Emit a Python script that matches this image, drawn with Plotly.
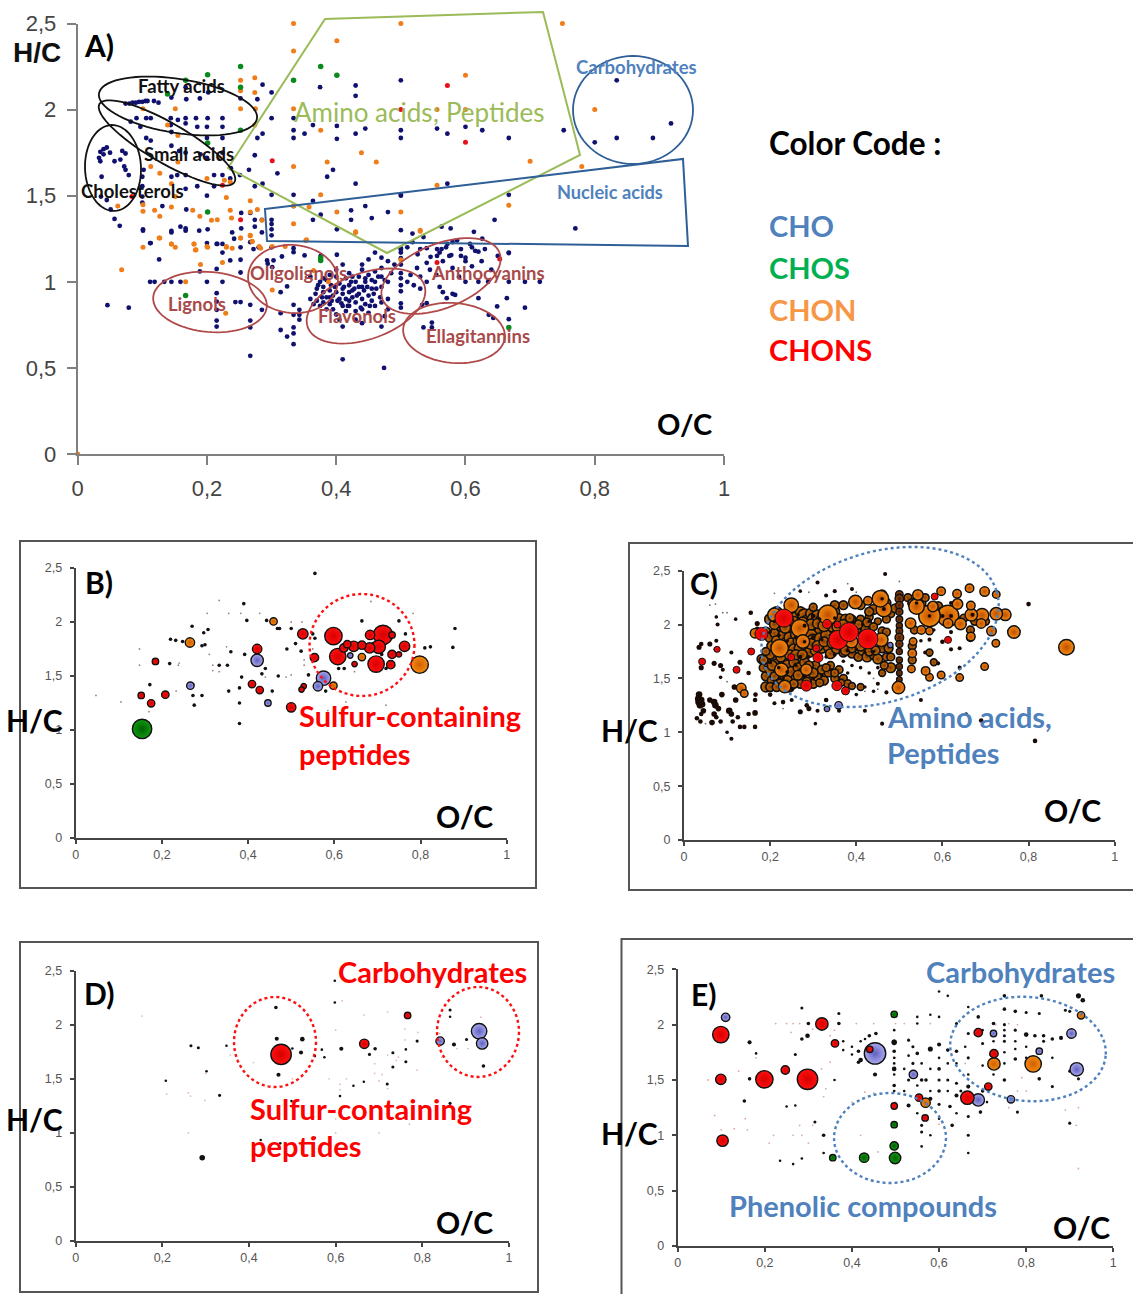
import math
import plotly.graph_objects as go

W, H = 1133, 1294
TICK_VALS_X = [0, 0.2, 0.4, 0.6, 0.8, 1]
TICK_TEXT_X = ["0", "0,2", "0,4", "0,6", "0,8", "1"]
TICK_VALS_Y = [0, 0.5, 1, 1.5, 2, 2.5]
TICK_TEXT_Y = ["0", "0,5", "1", "1,5", "2", "2,5"]

A_CHO = [(.04,1.77),(.045,1.78),(.035,1.755),(.04,1.74),(.033,1.72),(.035,1.7),(.05,1.75),(.069,1.76),(.074,1.745),(.066,1.71),(.057,1.70),(.072,1.67),(.074,1.65),(.079,1.62),(.037,1.61),(.036,1.495),(.045,1.475),(.051,1.42),(.057,1.365),(.065,1.325),(.102,1.65),(.10,1.61),(.10,1.555),(.10,1.495),(.10,1.46),
(.074,2.035),(.08,2.035),(.085,2.04),(.09,2.04),(.095,2.045),(.10,2.045),(.105,2.05),(.108,2.05),(.118,2.05),(.125,2.04),(.145,2.07),(.168,2.06),(.189,2.065),(.202,2.10),(.167,2.13),(.252,2.065),(.278,2.06),(.286,2.145),(.30,2.10),(.375,2.13),(.43,2.14),(.43,2.08),(.5,2.17),(.834,2.17),(.918,1.92),(.80,1.81),(.834,1.835),(.89,1.835),(.752,1.88),(.667,1.835),(.626,1.88),(.60,1.90),(.572,1.86),(.556,1.89),(.5,1.88),(.5,1.835),
(.091,1.95),(.106,1.95),(.113,1.95),(.144,1.95),(.155,1.94),(.167,1.95),(.183,1.95),(.201,1.95),(.224,1.95),(.30,1.95),(.334,1.95),(.2,1.9),(.224,1.9),(.185,1.9),(.144,1.91),(.167,1.92),(.082,1.93),(.097,1.9),(.106,1.835),(.113,1.82),(.145,1.87),(.2,1.835),(.224,1.835),(.278,1.835),(.286,1.86),(.334,1.835),(.334,1.88),(.351,1.86),(.364,1.91),(.401,1.83),(.401,1.905),(.43,1.86),(.445,1.89),
(.145,1.79),(.157,1.76),(.167,1.75),(.19,1.74),(.2,1.72),(.224,1.75),(.274,1.735),(.237,1.66),(.251,1.62),(.265,1.65),(.309,1.63),(.395,1.65),(.386,1.61),(.236,1.6),(.224,1.62),(.211,1.62),(.167,1.62),(.154,1.62),(.145,1.61),(.286,1.57),(.274,1.555),(.30,1.505),(.334,1.505),(.43,1.57),(.211,1.555),(.2,1.5),(.185,1.555),(.167,1.54),
(.364,1.47),(.445,1.44),(.423,1.415),(.334,1.44),(.376,1.39),(.364,1.36),(.423,1.36),(.401,1.305),(.455,1.37),(.5,1.5),(.3,1.36),(.3,1.335),(.3,1.305),(.3,1.27),(.285,1.36),(.274,1.36),(.274,1.32),(.253,1.31),(.253,1.4),(.267,1.4),(.201,1.305),(.168,1.42),(.131,1.44),(.101,1.305),(.145,1.295),(.159,1.32),(.167,1.31),(.113,1.225),(.216,1.22),(.224,1.22),(.2,1.225),(.242,1.25),(.252,1.2),(.267,1.23),(.28,1.2),(.3,1.2),(.334,1.195),(.376,1.15),
(.572,1.57),(.5,1.505),(.667,1.505),(.48,1.405),(.645,1.36),(.77,1.31),(.518,1.28),(.535,1.26),(.518,1.23),(.5,1.3),(.563,1.32),(.577,1.31),(.613,1.29),(.626,1.25),(.587,1.24),(.572,1.22),(.58,1.23),(.607,1.22),(.54,1.195),(.556,1.19),(.563,1.19),(.593,1.19),(.62,1.175),(.63,1.19),(.667,1.17),(.5,1.195),(.5,1.17),(.526,1.16),(.546,1.145),(.556,1.15),(.578,1.155),(.593,1.15),(.6,1.14),
(.112,1.0),(.119,1.0),(.134,1.0),(.145,1.0),(.159,1.0),(.2,1.0),(.224,1.0),(.101,1.297),(.145,1.287),(.167,1.297),(.188,1.297),(.239,1.287),(.285,1.287),(.215,1.22),(.224,1.17),(.272,1.19),(.112,1.225),(.126,1.13),(.236,1.124),(.252,1.128),(.293,1.124),(.303,1.124),(.294,1.105),(.301,1.085),(.316,1.147),(.334,1.172),(.351,1.153),(.401,1.157),(.252,1.054),(.189,1.06),(.215,1.075),
(.324,.973),(.314,.94),(.334,.866),(.343,.837),(.343,.808),(.334,.808),(.343,.78),(.334,.735),(.334,.70),(.324,.682),(.314,.72),(.334,.638),(.267,.735),(.267,.775),(.267,.866),(.252,.882),(.244,.882),(.285,.837),(.314,.818),(.215,.934),(.215,.885),(.215,.837),(.215,.775),(.215,.74),(.046,.864),(.079,.85),(.267,.57),(.41,.55),(.474,.50),
(.375,1.0),(.385,1.01),(.392,.98),(.40,1.03),(.405,.99),(.41,.96),(.415,1.02),(.42,.98),(.425,.95),(.43,1.0),(.435,1.03),(.44,.97),(.445,1.0),(.45,1.04),(.455,.96),(.46,1.0),(.465,1.03),(.47,.97),(.475,1.01),(.48,1.0),(.485,1.05),(.37,.96),(.38,.94),(.385,.91),(.39,.95),(.395,.92),(.40,.94),(.405,.90),(.41,.93),(.415,.90),(.42,.94),(.425,.91),(.43,.88),(.435,.93),(.44,.90),(.445,.87),(.45,.92),(.455,.89),(.36,.90),(.365,.87),(.37,.89),(.375,.86),(.38,.88),(.39,.87),(.395,.84),(.40,.81),(.41,.86),(.415,.83),(.42,.86),(.43,.83),(.44,.84),(.45,.82),(.46,.86),(.47,.88),(.48,.90),(.385,.84),(.405,.78),(.41,.74),(.43,.78),(.44,.76),(.47,.74),(.475,.80),(.48,.84),(.42,1.05),(.44,1.07),(.46,1.06),(.47,1.08),(.40,1.07),(.41,1.10),(.44,1.10),(.45,1.13),(.46,1.17),(.47,1.14),(.49,1.10),(.48,1.12),(.39,1.04),(.36,1.03),(.38,.97),
(.39,.91),(.398,.97),(.408,.875),(.418,.86),(.423,1.0),(.428,.96),(.432,.92),(.438,.85),(.443,.95),(.448,.97),(.452,.86),(.458,.93),(.462,.96),(.468,.91),(.42,.89),(.412,.97),(.402,.89),(.393,.89),(.378,.91),(.368,.93),(.372,.98),(.38,1.02),(.435,.97),(.425,1.03),(.445,1.02),(.455,1.01),(.47,1.03),
(.5,1.186),(.5,1.137),(.5,1.10),(.5,1.05),(.5,1.02),(.5,.98),(.5,.945),(.5,.875),(.5,.85),(.51,1.0),(.52,.98),(.515,1.04),(.525,1.08),(.53,.96),(.53,1.03),(.54,1.11),(.54,1.0),(.545,1.07),(.555,1.04),(.56,1.17),(.565,1.12),(.56,.97),(.565,.94),(.575,1.15),(.58,1.08),(.59,1.03),(.60,1.12),(.6,1.0),(.61,1.09),(.615,1.18),(.62,1.0),(.625,1.12),(.635,1.0),(.64,1.07),(.65,1.15),(.667,1.167),(.667,1.0),(.692,1.0),(.715,1.0),(.664,.905),(.649,.857),(.692,.85),(.636,.808),(.643,.79),(.667,.783),(.535,.735),(.548,.763),(.548,.735),(.62,.905),(.584,.924),(.571,.905),(.54,.876),(.533,.866),(.58,.93),(.51,1.2),(.53,1.19),(.57,1.2),(.61,1.2)]

A_CHON = [(.334,2.5),(.401,2.4),(.334,2.34),(.5,2.5),(.75,2.5),(.6,2.2),(.556,2.0),(.6,2.0),(.8,2.0),(.70,1.70),(.78,1.67),(.556,1.56),(.5,1.405),(.667,1.445),(.53,1.30),(.252,2.17),(.274,2.185),(.252,2.11),(.274,2.1),(.101,2.005),(.151,2.005),(.252,2.005),(.275,2.005),(.334,2.005),(.139,1.91),(.274,1.91),(.376,1.88),(.155,1.85),(.439,1.75),(.334,1.67),(.386,1.695),(.462,1.695),(.219,1.72),(.155,1.695),(.113,1.67),(.127,1.63),(.2,1.6),(.227,1.59),(.236,1.58),(.145,1.57),(.151,1.495),(.376,1.505),(.267,1.47),(.23,1.49),(.062,1.44),(.101,1.447),(.101,1.41),(.145,1.434),(.119,1.415),(.127,1.38),(.178,1.415),(.189,1.38),(.207,1.357),(.216,1.36),(.236,1.415),(.238,1.37),(.267,1.405),(.278,1.42),(.285,1.357),(.334,1.44),(.358,1.434),(.334,1.337),(.401,1.405),(.43,1.29),(.354,1.244),(.252,1.254),(.267,1.27),(.27,1.235),(.127,1.254),(.145,1.22),(.151,1.2),(.101,1.2),(.18,1.22),(.201,1.2),(.182,1.185),(.23,1.2),(.239,1.195),(.283,1.195),(.321,1.205),(.126,1.254),(.145,1.22),(.18,1.22),(.183,1.186),(.2,1.205),(.23,1.205),(.252,1.254),(.267,1.267),(.27,1.234),(.281,1.205),(.301,1.205),(.353,1.24),(.068,1.07),(.19,1.1),(.224,1.112),(.167,1),(.229,.818),(.301,.953),(.365,1.066),(.388,1.0),(.5,1.128),(.43,1.287),(.53,1.293),(0,0)]

A_CHOS = [(.201,2.203),(.252,2.25),(.334,2.17),(.376,2.25),(.401,2.2),(.252,2.13),(.139,2.09),(.167,2.17),(.252,1.88),(.201,1.806),(.201,1.405),(.167,.92),(.376,1.124),(.667,.735),(.376,1.14)]

A_CHONS = [(.301,1.703),(.224,1.56),(.252,1.36),(.084,1.495),(.572,2.14),(.5,2.0),(.6,1.81),(.556,1.112),(.653,1.132)]

B_RED = [(.713,1.88,18),(.598,1.87,16),(.608,1.68,15),(.697,1.61,15),(.703,1.77,12),(.683,1.88,8),(.682,1.76,9),(.645,1.775,9),(.664,1.785,7),(.622,1.76,7),(.63,1.795,6),(.763,1.775,9),(.734,1.70,7),(.731,1.605,7),(.734,1.88,5),(.527,1.89,9),(.554,1.67,7),(.421,1.75,8),(.409,1.425,6),(.427,1.37,6),(.5,1.21,8),(.208,1.327,6),(.175,1.247,6),(.152,1.32,5),(.185,1.635,5),(.647,1.61,4),(.529,1.405,4),(.524,1.375,4),(.75,1.7,4)]
B_CHON = [(.798,1.605,16),(.265,1.81,8),(.459,2.005,6),(.664,1.675,6),(.598,1.41,6)]
B_CHO = [(.421,1.645,11),(.575,1.48,13),(.562,1.405,8),(.266,1.41,6),(.637,1.69,4),(.446,1.25,5)]
B_CHOS = [(.154,1.01,18)]
B_BLACK = [(.555,2.45),(.39,2.17),(.397,2.015),(.443,2.015),(.468,1.94),(.5,1.94),(.555,1.85),(.55,1.89),(.51,1.8),(.523,1.73),(.36,1.725),(.392,1.7),(.333,1.6),(.352,1.6),(.44,1.57),(.432,1.52),(.385,1.49),(.38,1.39),(.38,1.25),(.38,1.06),(.272,1.42),(.293,1.32),(.27,1.96),(.297,1.9),(.307,1.93),(.22,1.84),(.232,1.83),(.248,1.82),(.293,1.78),(.3,1.79),(.218,1.615),(.172,1.42),(.272,1.32),(.275,1.23),(.456,1.36),(.473,1.94),(.58,1.36),(.61,1.57),(.623,1.57),(.664,2.01),(.75,2.01),(.765,1.89),(.81,1.76),(.823,1.77),(.875,1.765),(.88,1.94),(.72,1.57),(.7,1.89),(.655,1.8),(.69,1.8),(.71,1.7),(.54,1.51),(.355,1.36),(.49,1.75),(.47,1.5)]
B_TINY = [(.047,1.32),(.105,1.26),(.148,1.75),(.148,1.6),(.17,1.17),(.24,1.62),(.238,1.6),(.233,1.36),(.305,2.08),(.333,2.2),(.355,2.08),(.383,2.08),(.427,2.08),(.5,2.0),(.525,2.0),(.35,1.77),(.31,1.7),(.318,1.6),(.318,1.55),(.333,1.54),(.488,1.49),(.5,1.51),(.44,1.49),(.685,2.19),(.783,2.08),(.72,1.23),(.627,1.26),(.78,1.11),(.585,1.18),(.55,1.75),(.53,1.65),(.56,1.7),(.647,1.54),(.53,1.6)]

C_BODY = [(.2,2.05,9),(.215,2.11,10),(.22,2.03,8),(.225,1.98,7),(.24,2.08,9),(.245,2.02,10),(.25,1.95,8),(.255,2.1,9),(.26,2.06,10),(.265,2.0,9),(.27,2.12,8),(.275,1.95,10),(.28,2.08,12),(.285,2.03,10),(.29,1.97,11),(.295,2.1,9),(.3,2.05,10),(.305,1.98,8),(.31,2.08,10),(.315,1.93,9),(.32,2.03,11),(.325,2.1,10),(.33,1.96,9),(.34,2.05,9),(.345,1.99,11),(.35,2.12,8),(.355,1.9,10),(.36,2.05,9),(.365,1.97,7),(.37,2.18,7),(.375,2.05,8),(.38,1.99,9),(.39,2.05,6),(.4,1.95,7),(.41,2.05,6),(.42,1.97,6),(.43,2.07,6),(.44,2.14,8),(.45,2.03,5),(.46,1.94,6),(.47,1.93,6),
(.19,1.93,8),(.2,1.88,8),(.205,1.8,9),(.21,1.92,7),(.215,1.85,8),(.23,1.9,8),(.235,1.82,10),(.24,1.76,8),(.245,1.88,9),(.25,1.83,8),(.255,1.77,9),(.26,1.91,9),(.265,1.85,8),(.27,1.78,10),(.28,1.88,9),(.285,1.8,9),(.29,1.74,8),(.295,1.9,10),(.3,1.85,11),(.305,1.76,8),(.315,1.87,9),(.32,1.78,8),(.33,1.9,9),(.335,1.8,9),(.34,1.73,8),(.35,1.88,8),(.355,1.78,9),(.365,1.83,8),(.37,1.74,7),(.38,1.8,8),(.39,1.73,7),(.4,1.82,8),(.405,1.7,7),(.415,1.76,8),(.425,1.7,8),(.435,1.79,7),(.44,1.72,7),(.45,1.68,8),(.46,1.78,7),(.47,1.7,6),(.475,1.78,7),(.48,1.6,8),(.465,1.62,6),
(.18,1.68,7),(.185,1.6,7),(.19,1.52,7),(.19,1.42,8),(.195,1.65,8),(.2,1.58,8),(.205,1.48,8),(.21,1.7,8),(.215,1.63,9),(.22,1.55,9),(.225,1.45,8),(.23,1.67,8),(.235,1.52,9),(.24,1.62,9),(.245,1.42,8),(.25,1.56,9),(.255,1.65,8),(.26,1.5,8),(.265,1.6,8),(.27,1.45,7),(.275,1.55,8),(.28,1.65,8),(.29,1.5,8),(.295,1.58,8),(.3,1.45,7),(.305,1.62,7),(.31,1.52,8),(.32,1.58,7),(.325,1.48,7),(.335,1.55,6),(.34,1.62,6),(.35,1.5,6),(.36,1.58,6),(.37,1.5,6),(.38,1.45,6),(.39,1.43,5),(.41,1.42,5),
(.46,2.28,7),(.47,2.2,7),(.48,2.1,6),(.49,2.15,7),(.47,2.05,6),(.52,2.25,6),(.53,2.2,7),(.55,2.2,8),(.555,2.12,8),(.56,2.25,6),(.59,2.17,7),(.6,2.12,7),(.62,2.1,6),(.63,2.05,7),(.65,2.06,6),(.675,2.03,6),(.7,2.03,6),(.535,1.95,6),(.53,1.8,6),(.53,1.67,6),(.665,1.95,6),(.665,1.88,6),(.58,1.65,5),(.57,1.74,5),(.43,2.12,7),(.41,2.18,7),(.35,2.18,7),(.3,2.16,6),(.48,1.7,6),(.46,1.55,5),
(.21,2.0,8),(.235,1.97,9),(.255,2.03,8),(.275,2.02,9),(.295,2.0,9),(.31,2.01,8),(.325,1.99,10),(.335,2.04,9),(.355,1.98,8),(.37,2.0,8),(.385,2.06,7),(.405,2.0,7),(.425,2.02,7),(.44,1.98,6),(.215,1.75,8),(.225,1.7,8),(.245,1.72,8),(.26,1.72,8),(.275,1.72,8),(.295,1.82,9),(.31,1.8,9),(.325,1.84,8),(.345,1.83,9),(.36,1.84,8),(.375,1.76,8),(.39,1.78,7),(.41,1.8,8),(.43,1.75,7),(.445,1.76,7),(.2,1.72,7),(.205,1.62,8),(.21,1.52,7),(.225,1.6,8),(.24,1.48,8),(.255,1.45,7),(.265,1.53,8),(.285,1.47,7),(.3,1.55,8),(.315,1.46,6),(.33,1.6,6),(.35,1.55,6),(.365,1.46,5),(.29,1.62,7),(.2,1.42,7),(.215,1.42,7),(.185,1.67,7),(.19,1.75,6)]
C_COLUMN = [(.5,2.28,6),(.5,2.24,7),(.5,2.18,6),(.5,2.12,5.5),(.5,2.05,5),(.5,1.99,4.5),(.5,1.94,5),(.5,1.88,7),(.5,1.82,5.5),(.5,1.75,4.5),(.5,1.67,4.5),(.5,1.61,4.5),(.5,1.55,4),(.5,1.49,4)]
C_BIG = [(.888,1.79,14),(.766,1.93,11),(.746,2.09,10),(.725,2.10,11),(.692,2.087,12),(.667,2.09,11),(.613,2.08,20),(.57,2.08,20),(.54,2.167,14),(.464,2.145,14),(.456,2.24,15),(.398,2.21,12),(.249,2.18,13),(.334,2.09,18),(.269,1.966,16),(.222,1.78,16),(.276,1.842,12),(.389,1.842,11),(.458,1.858,12),(.498,1.415,11),(.284,1.58,10),(.226,1.58,12),(.234,1.424,11),(.133,1.41,8),(.698,2.306,8),(.663,2.337,7),(.597,2.31,7),(.543,2.275,9),(.427,2.22,7),(.634,2.285,7),(.725,2.28,6),(.635,2.19,9),(.666,2.176,7),(.642,2.006,10),(.714,1.94,8),(.724,1.827,6),(.666,1.888,7),(.698,1.61,6),(.64,1.508,6),(.597,1.532,6),(.57,1.51,6),(.561,1.57,7),(.528,1.588,6),(.53,1.733,7),(.532,1.842,6),(.526,2.012,9),(.551,1.95,7),(.57,1.94,6),(.578,2.167,9),(.613,2.012,8),(.69,2.01,8),(.165,1.92,8),(.14,1.36,6),(.21,2.09,12)]
C_RED = [(.232,2.06,17),(.18,1.913,12),(.358,1.858,18),(.383,1.93,18),(.427,1.867,19),(.311,1.694,9),(.284,1.433,10),(.355,1.433,9),(.375,1.384,7),(.332,2.006,8),(.307,1.78,6),(.249,1.697,6),(.356,2.0,6),(.613,1.858,6),(.582,2.26,6),(.042,1.656,6),(.077,1.77,5),(.156,1.75,6),(.122,1.58,6)]
C_CHO = [(.359,1.25,6),(.332,1.217,4),(.479,1.81,4)]
C_DARK = [(.035,1.35,6),(.033,1.31,6),(.035,1.28,7),(.037,1.25,6),(.04,1.3,6),(.042,1.26,6),(.045,1.2,5),(.04,1.17,4),(.03,1.13,4),(.038,1.1,4),(.06,1.3,5),(.07,1.28,6),(.073,1.25,6),(.08,1.22,5),(.07,1.17,5),(.075,1.14,4),(.065,1.09,5),(.085,1.1,4),(.088,1.35,5),(.105,1.2,6),(.11,1.17,5),(.113,1.1,4),(.12,1.3,5),(.125,1.14,4),(.13,1.05,4),(.14,1.05,4),(.15,1.17,4),(.165,1.18,5),(.165,1.05,4),(.165,1.3,4),(.166,1.35,4),(.11,.94,3.5),(.1,1.0,3),(.04,1.82,4),(.035,1.79,4.5),(.06,1.82,4.5),(.075,1.85,3.5),(.075,1.77,5),(.07,1.64,4.5),(.085,1.62,4.5),(.04,1.6,4.5),(.09,1.58,3.5),(.085,1.51,3),(.11,1.74,3.5),(.13,1.65,4.5),(.12,1.58,5),(.15,1.55,4),(.117,1.42,5),(.155,2.11,4),(.078,2.0,3.5),(.075,2.07,3),(.12,2.05,3),(.17,2.01,4.5),(.17,1.96,4),(.25,1.3,3.5),(.2,1.35,4),(.23,1.28,4),(.21,1.27,3.5),(.27,1.19,4.5),(.29,1.22,4.5),(.285,1.25,4),(.31,1.2,3.5),(.33,1.3,4),(.36,1.2,3.5),(.42,1.2,3.5),(.45,1.45,3.5),(.46,1.08,3.5),(.47,1.37,3.5),(.55,1.3,3.5),(.69,1.11,4),(.815,.92,4),(.8,2.19,4),(.655,1.17,3),(.305,1.08,3),(.31,2.39,3.5),(.467,2.47,3.5),(.33,2.27,3.5),(.27,2.31,3),(.35,2.31,3.5),(.39,2.33,3.5),(.62,2.2,3.5),(.57,1.86,3.5),(.57,1.72,4),(.59,1.64,3.5),(.62,1.77,3.5),(.64,1.6,3.5),(.64,1.78,3.5),(.6,1.84,4),(.56,1.74,3.5)]
C_OVER = [(.21,2.03,3),(.235,2.12,3),(.25,2.05,4),(.265,2.09,3),(.28,1.99,3.5),(.3,2.08,4),(.315,2.05,3),(.332,2.02,4),(.35,2.06,3),(.37,1.95,3.5),(.395,2.02,3),(.415,2.0,3),(.43,2.03,3),(.2,1.93,3),(.22,1.9,3.5),(.24,1.85,3),(.26,1.88,3.5),(.28,1.84,3),(.3,1.88,4),(.32,1.86,3),(.34,1.9,3),(.36,1.8,3),(.38,1.76,3.5),(.4,1.77,3),(.42,1.74,3),(.44,1.75,3),(.2,1.65,3.5),(.22,1.6,3),(.24,1.56,3.5),(.26,1.62,3),(.28,1.52,3.5),(.3,1.5,3),(.32,1.53,3),(.34,1.58,3),(.21,1.46,3),(.23,1.5,3),(.25,1.4,3),(.27,1.7,3.5),(.29,1.7,3),(.31,1.73,3),(.33,1.7,3),(.35,1.72,3.5),(.37,1.66,3),(.39,1.62,3),(.41,1.6,3),(.43,1.55,3),(.45,1.6,3),(.38,1.55,3),(.36,1.42,3),(.4,1.35,3),(.44,1.38,3),(.42,1.42,3),(.6,2.08,3.5),(.57,2.08,3),(.46,2.24,3),(.464,2.145,3.5),(.62,2.08,3.5),(.54,2.2,3),(.67,2.09,3.5),(.55,1.85,3),(.58,1.95,3),(.62,1.93,3.5)]
C_TINY = [(.06,2.18,2),(.073,2.19,2),(.075,2.08,2),(.09,2.11,2),(.1,2.11,2),(.21,2.29,2),(.29,2.3,2),(.38,2.38,2),(.5,2.4,2),(.4,2.3,2),(.05,1.08,2),(.1,1.47,2),(.23,1.22,2),(.42,1.38,2),(.44,1.5,2),(.45,1.4,2)]

D_RED = [(.474,1.726,19),(.666,1.824,8),(.766,2.086,5)]
D_CHO = [(.931,1.94,14),(.938,1.827,10),(.841,1.849,7)]
D_BLACK = [(.462,2.16,3),(.464,1.87,3.5),(.523,1.867,4),(.52,1.744,3.5),(.468,1.538,3.5),(.266,1.806,2.5),(.283,1.787,2.5),(.348,1.806,2),(.332,1.347,2.5),(.292,.77,5),(.613,1.778,3.5),(.691,1.778,3),(.678,1.726,2.5),(.732,1.741,2.5),(.732,1.609,2.5),(.762,1.772,2),(.762,1.658,2.5),(.788,1.849,2.5),(.864,2.136,2.5),(.864,2.074,2),(.873,1.818,3.5),(.902,1.864,2.5),(.941,1.618,3),(.598,2.407,2),(.598,2.206,2),(.719,1.452,2.5),(.641,1.436,2),(.665,1.473,2),(.61,1.34,2),(.552,.955,2),(.427,.934,2),(.472,.903,2),(.864,1.273,2.5),(.498,1.294,2),(.208,1.482,2),(.552,1.71,2),(.568,1.77,2),(.574,1.7,2),(.5,1.78,2),(.302,1.57,2)]
D_TINY = [(.153,2.08),(.21,1.36),(.26,1.37),(.265,1.34),(.298,1.3),(.3,1.55),(.357,1.72),(.41,1.65),(.5,1.5),(.615,2.22),(.6,1.95),(.585,1.5),(.625,1.5),(.61,1.45),(.61,1.4),(.665,2.09),(.72,2.12),(.76,1.96),(.76,1.86),(.79,1.93),(.72,1.72),(.745,1.7),(.74,1.67),(.69,1.64),(.69,1.55),(.707,1.54),(.7,1.48),(.72,1.41),(.788,1.58),(.77,1.08),(.6,1.0),(.26,1.0),(.61,1.2),(.6,1.13),(.84,1.92),(.845,1.7),(.88,1.78),(.935,2.07),(.905,1.78),(.55,1.15),(.7,1.0)]

E_RED = [(.099,1.91,15),(.099,1.506,9),(.103,.952,10),(.199,1.506,16),(.247,1.59,7),(.298,1.506,19),(.331,2.006,11),(.361,1.83,6),(.665,1.34,12),(.69,1.928,7),(.726,1.738,7),(.713,1.44,6),(.554,1.34,6),(.568,1.157,5),(.497,1.265,5),(.441,1.777,5)]
E_CHO = [(.453,1.74,20),(.69,1.32,11),(.916,1.596,12),(.904,1.92,8),(.541,1.55,7),(.11,2.066,7),(.765,1.325,6),(.83,1.76,5),(.725,1.92,5)]
E_CHON = [(.816,1.645,15),(.726,1.645,11),(.569,1.295,8),(.926,2.084,6)]
E_CHOS = [(.499,.795,10),(.497,.904,7),(.428,.798,8),(.356,.798,5),(.497,1.096,5),(.497,2.093,5)]
E_BLACK = [(.285,2.15,2.5),(.3,2.01,3),(.37,2.01,3),(.37,2.1,2.5),(.298,1.9,4),(.285,1.87,3),(.27,1.73,2.5),(.165,1.84,3.5),(.18,1.74,2),(.165,1.51,3),(.153,1.31,3),(.25,1.26,2),(.27,1.27,2),(.315,1.12,2.5),(.335,1.0,3),(.335,.84,2),(.235,.77,2),(.265,.74,2),(.285,.79,2),(.36,1.5,2),(.38,1.77,2),(.4,1.73,2),(.415,1.76,3),(.42,1.68,4),(.415,1.66,3),(.44,1.9,3),(.455,1.92,3),(.453,1.55,3.5),(.38,1.85,2),(.4,1.8,2),(.42,1.85,2),(.43,1.87,2),
(.497,1.84,5),(.497,1.76,3),(.497,1.7,2),(.497,1.6,4),(.497,1.45,3),(.497,1.85,3),(.497,1.95,2),(.497,1.4,2),(.53,1.86,2.5),(.54,1.8,2.5),(.55,1.74,3),(.53,1.72,2),(.54,1.65,2.5),(.53,1.5,2.5),(.56,1.5,3),(.57,1.5,3),(.58,1.78,4.5),(.6,1.82,3.5),(.6,1.6,3),(.6,1.5,2.5),(.6,1.4,3),(.62,1.77,3),(.64,1.76,3),(.62,1.5,2.5),(.64,1.47,2.5),(.6,1.28,2.5),(.625,1.26,3),(.64,1.36,3.5),(.65,1.4,2.5),(.667,1.44,3.5),(.667,1.17,2.5),(.667,1.0,2.5),(.63,1.09,3),(.56,1.09,2.5),(.56,1.03,2.5),(.58,1.0,2),(.56,.9,2),(.667,.84,2),(.53,1.27,3.5),(.58,1.33,3.5),(.7,1.4,3),(.695,1.21,3),(.71,1.3,2),
(.69,2.07,3),(.667,2.16,2),(.667,1.92,2.5),(.7,1.83,2.5),(.72,1.73,3),(.7,1.63,2),(.667,1.7,2.5),(.725,2.01,3),(.75,2.0,2.5),(.75,1.85,2.5),(.75,1.9,2.5),(.75,2.26,3),(.75,2.14,3),(.775,2.12,3),(.8,2.11,2.5),(.83,2.1,2.5),(.8,1.91,4),(.82,1.9,3),(.84,1.9,3),(.84,1.85,2.5),(.775,1.69,3),(.75,1.5,3),(.78,1.21,2.5),(.835,2.26,3),(.83,1.51,3),(.86,1.44,2.5),(.86,1.87,3),(.88,1.88,3.5),(.9,1.89,3),(.86,1.7,2),(.89,2.13,2.5),(.9,2.12,2.5),(.92,1.51,2.5),(.9,1.58,2.5),(.92,2.26,4.5),(.93,2.22,4),(.93,2.09,3),(.9,1.11,2.5),(.62,2.26,2),(.6,2.3,2),(.58,2.09,2),(.6,2.07,2),(.55,2.01,2),(.55,2.07,2),(.64,2.01,2.5),(.66,1.8,2),
(.75,1.95,2),(.775,1.95,2.5),(.775,1.85,2),(.775,1.78,2),(.8,1.8,2),(.8,1.7,2),(.75,1.75,2),(.75,1.65,2),(.725,1.85,2),(.725,1.55,2),(.7,1.95,2),(.667,1.55,2),(.64,1.65,2),(.62,1.65,2),(.6,1.7,2),(.58,1.6,2),(.56,1.65,2),(.52,1.6,2),(.52,1.4,2),(.55,1.45,2),(.58,1.4,2),(.62,1.4,2),(.6,1.15,2),(.64,1.2,2),(.55,1.2,2),(.497,1.55,2),(.497,1.65,2)]
E_TINY = [(.225,2.01),(.25,2.01),(.265,2.01),(.28,2.01),(.41,2.01),(.45,2.01),(.52,2.01),(.58,2.01),(.13,1.06),(.1,1.05),(.155,1.15),(.16,1.05),(.22,1.0),(.265,1.0),(.285,1.0),(.3,.93),(.21,.93),(.28,1.09),(.31,1.09),(.19,1.5),(.14,1.58),(.18,1.7),(.07,1.5),(.085,1.18),(.35,1.66),(.33,1.6),(.34,1.42),(.335,1.35),(.4,1.3),(.43,1.39),(.45,1.38),(.42,1.0),(.46,.85),(.92,.7),(.76,1.25),(.78,1.4),(.8,1.4),(.89,1.23),(.92,1.25),(.915,1.09),(.73,2.0),(.76,2.01),(.78,2.0),(.79,1.52),(.6,1.1),(.5,2.01),(.66,1.65),(.67,1.35),(.5,1.7),(.5,1.3),(.31,1.96),(.35,1.9),(.36,1.95),(.26,1.93)]

POLY_AMINO = [(228,168),(325,19),(543,12),(580,155),(387,253),(228,168)]
POLY_NUCLEIC = [(265,209),(683,159),(688,246),(267,241),(265,209)]


def pad(px, py):
    return px / W, 1 - py / H


def pts(seq):
    return [p[0] for p in seq], [p[1] for p in seq]


fig = go.Figure()


def flat(data, color, size, ax):
    x, y = pts(data)
    fig.add_trace(go.Scatter(x=x, y=y, mode="markers", cliponaxis=False, xaxis="x" + ax, yaxis="y" + ax,
                             marker=dict(size=size, color=color, opacity=1, line=dict(width=0))))


def bub(data, color, rim, ax, lw=1.4):
    x, y = pts(data)
    s = [p[2] + lw for p in data]
    fig.add_trace(go.Scatter(x=x, y=y, mode="markers", cliponaxis=False, xaxis="x" + ax, yaxis="y" + ax,
                             marker=dict(size=s, color=color, opacity=1, gradient=dict(type="radial", color=rim),
                                         line=dict(width=lw, color="#111111"))))


def dots(data, ax, color="#111111"):
    x, y = pts(data)
    s = [(p[2] if len(p) > 2 else 3) + 0.6 for p in data]
    fig.add_trace(go.Scatter(x=x, y=y, mode="markers", cliponaxis=False, xaxis="x" + ax, yaxis="y" + ax,
                             marker=dict(size=s, color=color, opacity=1, line=dict(width=0))))


def tiny(data, ax, color="#d9a0a0"):
    x, y = pts(data)
    fig.add_trace(go.Scatter(x=x, y=y, mode="markers", cliponaxis=False, xaxis="x" + ax, yaxis="y" + ax,
                             marker=dict(size=1.8, color=color, opacity=1, line=dict(width=0))))


RED, RED_R = "#ff1010", "#d80000"
ORG, ORG_R = "#f58a10", "#d06000"
BLU, BLU_R = "#a9a9ee", "#6060c0"
GRN, GRN_R = "#109a10", "#006000"

flat(A_CHO, "#10106e", 4.8, "")
flat(A_CHON, "#ef7d1a", 5, "")
flat(A_CHOS, "#0a8a1e", 5.5, "")
flat(A_CHONS, "#e8101a", 5, "")

tiny(B_TINY, "2", "#a08080"); dots(B_BLACK, "2")
bub(B_CHON, ORG, ORG_R, "2"); bub(B_CHO, BLU, BLU_R, "2"); bub(B_RED, RED, RED_R, "2"); bub(B_CHOS, GRN, GRN_R, "2")

tiny(C_TINY, "3", "#707070"); dots(C_DARK, "3", "#1a0a05")
bub(C_BODY, "#dd7408", "#7a3a00", "3", 1.7); bub(C_COLUMN, "#a04c10", "#401800", "3", 1.5); bub(C_BIG, ORG, "#c05000", "3", 1.5)
dots(C_OVER, "3", "#1a0a05")
bub(C_CHO, BLU, BLU_R, "3"); bub(C_RED, RED, RED_R, "3", 1.0)

tiny(D_TINY, "4", "#e8b8b8"); dots(D_BLACK, "4")
bub(D_CHO, BLU, BLU_R, "4"); bub(D_RED, RED, RED_R, "4")

tiny(E_TINY, "5", "#d8a8a0"); dots(E_BLACK, "5")
bub(E_CHOS, GRN, GRN_R, "5"); bub(E_CHON, ORG, ORG_R, "5"); bub(E_CHO, BLU, BLU_R, "5"); bub(E_RED, RED, RED_R, "5")

fig.update_traces(showlegend=False, hoverinfo="skip")

PANELS = {
    "": dict(x0=77.7, x1=724, y0=454, y1=23.5, size=22, col="#444444", line="#808080", tl=9, sx=5, sy=6),
    "2": dict(x0=75.7, x1=506.7, y0=838, y1=568, size=12.5, col="#555555", line="#444444", tl=4, sx=0, sy=5),
    "3": dict(x0=684, x1=1114.7, y0=840, y1=570.7, size=12.5, col="#555555", line="#444444", tl=4, sx=0, sy=5),
    "4": dict(x0=75.7, x1=509, y0=1241, y1=970.7, size=12.5, col="#555555", line="#444444", tl=4, sx=0, sy=5),
    "5": dict(x0=677.7, x1=1113.3, y0=1246, y1=969.3, size=12.5, col="#555555", line="#444444", tl=4, sx=0, sy=5),
}
axes = {}
for k, p in PANELS.items():
    font = dict(family="Liberation Sans", size=p["size"], color=p["col"])
    common = dict(showgrid=False, zeroline=False, showline=True, linecolor=p["line"], linewidth=2, ticks="outside",
                  ticklen=p["tl"], tickcolor=p["line"], tickwidth=1.5, tickfont=font, fixedrange=True)
    axes["xaxis" + k] = dict(common, domain=[p["x0"] / W, p["x1"] / W], range=[0, 1], tickvals=TICK_VALS_X,
                             ticktext=TICK_TEXT_X, anchor="y" + k, ticklabelstandoff=p["sx"])
    axes["yaxis" + k] = dict(common, domain=[1 - p["y0"] / H, 1 - p["y1"] / H], range=[0, 2.5], tickvals=TICK_VALS_Y,
                             ticktext=TICK_TEXT_Y, anchor="x" + k, ticklabelstandoff=p["sy"])

shapes = []


def poly(points, color, width=2):
    d = ""
    for i, (a, b) in enumerate(points):
        px, py = pad(a, b)
        d += ("M" if i == 0 else "L") + f"{px:.5f},{py:.5f} "
    shapes.append(dict(type="path", path=d + "Z", xref="paper", yref="paper", line=dict(color=color, width=width)))


def ellipse(cx, cy, a, b, ang, color, width=1.8, dash="solid"):
    t = math.radians(ang)
    out = []
    for i in range(73):
        u = 2 * math.pi * i / 72
        ex, ey = a * math.cos(u), b * math.sin(u)
        out.append((cx + ex * math.cos(t) - ey * math.sin(t), cy + ex * math.sin(t) + ey * math.cos(t)))
    d = "".join(("M" if i == 0 else "L") + "%.5f,%.5f " % pad(*q) for i, q in enumerate(out))
    shapes.append(dict(type="path", path=d, xref="paper", yref="paper", line=dict(color=color, width=width, dash=dash)))


def box(x0, y0, x1, y1):
    a, b = pad(x0, y0)
    c, e = pad(x1, y1)
    shapes.append(dict(type="rect", xref="paper", yref="paper", x0=a, y0=e, x1=c, y1=b,
                       line=dict(color="#555555", width=2), layer="below"))


box(20, 541, 536, 888); box(629, 543, 1150, 890); box(20, 942, 538, 1292); box(621.5, 939, 1150, 1310)
poly(POLY_AMINO, "#9BBB59"); poly(POLY_NUCLEIC, "#2F5F97")
BR = "#B04A4A"
ellipse(178, 106, 80, 27, 9, "#111111"); ellipse(167, 143, 78, 20, 30, "#111111"); ellipse(113, 168, 43, 28, 88, "#111111")
ellipse(633, 110, 60, 54, 0, "#2F5F97")
ellipse(293, 279, 45, 34, 5, BR); ellipse(210, 302, 57, 30, 5, BR); ellipse(366, 306, 62, 33, -20, BR)
ellipse(441, 276, 63, 32, -22, BR); ellipse(454, 333, 51, 30, 5, BR)
ellipse(362, 645, 52.5, 51, 0, "#FF1010", 2.4, "dot")
ellipse(880, 627, 122, 75, -17, "#4F81BD", 2.4, "dot")
ellipse(275, 1042, 41, 45, 0, "#FF1010", 2.4, "dot"); ellipse(478, 1032, 41, 45, 0, "#FF1010", 2.4, "dot")
ellipse(1028, 1049, 78, 52, 5, "#4F81BD", 2.4, "dot"); ellipse(890, 1138, 56, 45, 0, "#4F81BD", 2.4, "dot")

notes = []


def label(text, px, py, size, color="#000000", anchor="center", bold=False, family="Lato"):
    if anchor == "left":
        px -= 2.5
    a, b = pad(px, py - 1)
    t = f"<b>{text}</b>" if bold else text
    notes.append(dict(text=t, x=a, y=b, xref="paper", yref="paper", showarrow=False, xanchor=anchor, yanchor="middle",
                      font=dict(family=family, size=size, color=color)))


label("H/C", 37, 54, 28, "#111111", bold=True, family="Liberation Sans")
label("A)", 99, 46, 30, bold=True)
label("O/C", 684, 424, 29, bold=True)
label("Color Code :", 769, 144, 31.5, anchor="left", bold=True)
for txt, yy, cc in [("CHO", 227, "#4F81BD"), ("CHOS", 268, "#00B050"), ("CHON", 310, "#F79646"), ("CHONS", 351, "#FF0000")]:
    label(txt, 769, yy, 29, cc, anchor="left", bold=True)
label("Fatty acids", 181, 87, 18.5, "#111111", bold=True)
label("Small acids", 189, 155, 18.5, "#111111", bold=True)
label("Cholesterols", 132, 192, 18.5, "#111111", bold=True)
label("Amino acids; Peptides", 419, 113, 26, "#9BBB59")
label("Carbohydrates", 636, 68, 18.5, "#4F81BD", bold=True)
label("Nucleic acids", 610, 193, 18.2, "#4F81BD", bold=True)
for t, a, b in [("Oligolignols", 298, 274), ("Lignols", 197, 305), ("Flavonols", 357, 317), ("Anthocyanins", 488, 274), ("Ellagitannins", 478, 337)]:
    label(t, a, b, 18.5, "#A94A4A", bold=True)
label("B)", 99, 583, 30, bold=True); label("H/C", 34, 721, 30, bold=True); label("O/C", 464, 817, 30, bold=True)
label("Sulfur-containing", 299, 716, 29, "#FF0000", "left", bold=True); label("peptides", 299, 754, 29, "#FF0000", "left", bold=True)
label("C)", 704, 584, 30, bold=True); label("H/C", 630, 731, 30, bold=True); label("O/C", 1072, 811, 30, bold=True)
label("Amino acids,", 887, 717, 29, "#4F81BD", "left", bold=True); label("Peptides", 887, 753, 29, "#4F81BD", "left", bold=True)
label("D)", 99, 994, 30, bold=True); label("H/C", 34, 1120, 30, bold=True); label("O/C", 464, 1223, 30, bold=True)
label("Carbohydrates", 432, 972, 29, "#FF0000", bold=True)
label("Sulfur-containing", 250, 1109, 29, "#FF0000", "left", bold=True); label("peptides", 250, 1146, 29, "#FF0000", "left", bold=True)
label("E)", 704, 995, 30, bold=True); label("H/C", 630, 1134, 30, bold=True); label("O/C", 1081, 1228, 30, bold=True)
label("Carbohydrates", 1020, 972, 29, "#4F81BD", bold=True); label("Phenolic compounds", 863, 1206, 29, "#4F81BD", bold=True)

fig.update_layout(width=W, height=H, margin=dict(l=0, r=0, t=0, b=0, autoexpand=False), paper_bgcolor="white", plot_bgcolor="rgba(0,0,0,0)",
                  showlegend=False, shapes=shapes, annotations=notes, **axes)
fig.write_html("out.html", config=dict(displayModeBar=False),
               post_script="document.body.style.margin='0';document.body.style.overflow='hidden';")
